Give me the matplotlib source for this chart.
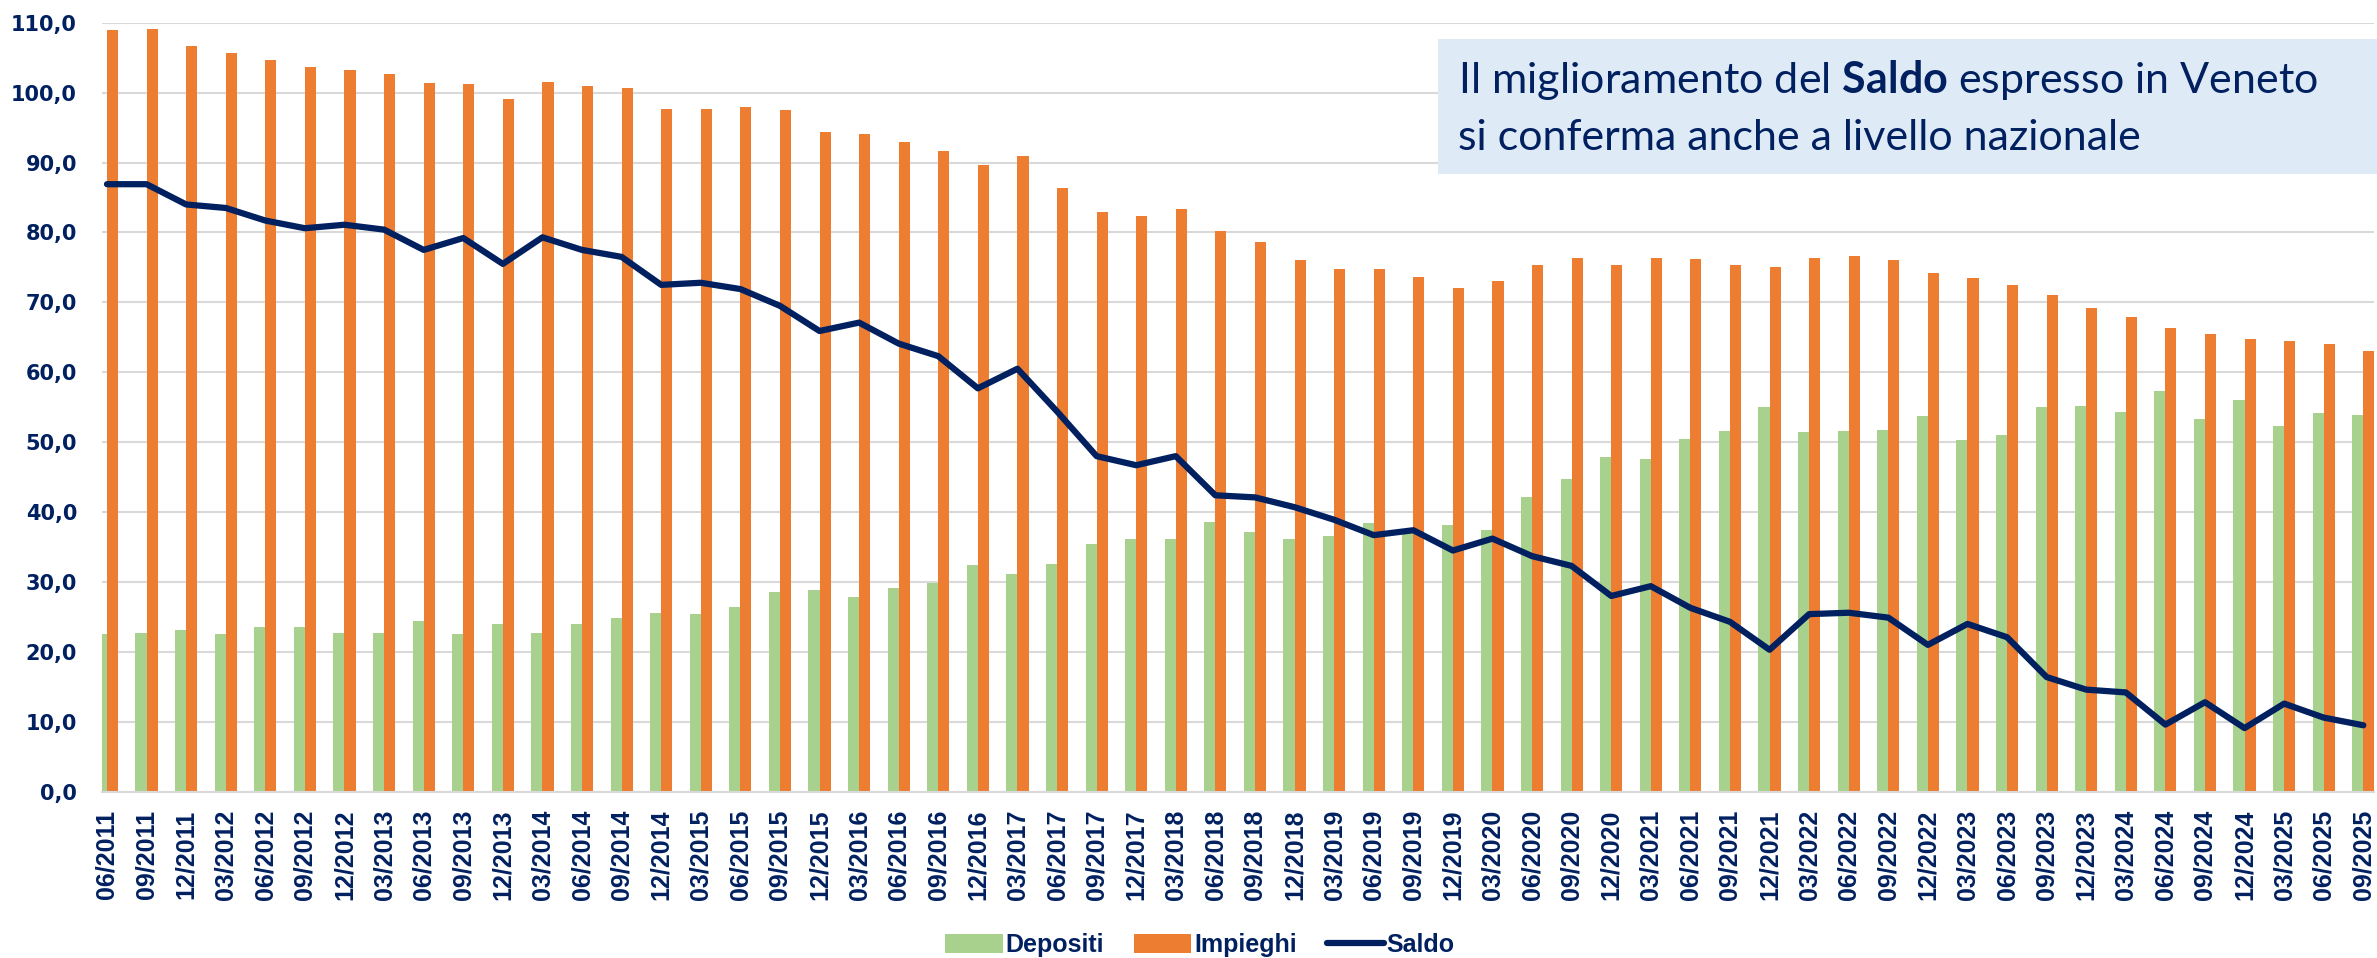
import numpy as np
import matplotlib
matplotlib.use('agg')
import matplotlib.pyplot as plt
from matplotlib.lines import Line2D
from matplotlib.patches import Patch, Rectangle
from matplotlib.ticker import FuncFormatter

# Trimestri
periodi = ['06/2011', '09/2011', '12/2011',
           '03/2012', '06/2012', '09/2012', '12/2012',
           '03/2013', '06/2013', '09/2013', '12/2013',
           '03/2014', '06/2014', '09/2014', '12/2014',
           '03/2015', '06/2015', '09/2015', '12/2015',
           '03/2016', '06/2016', '09/2016', '12/2016',
           '03/2017', '06/2017', '09/2017', '12/2017',
           '03/2018', '06/2018', '09/2018', '12/2018',
           '03/2019', '06/2019', '09/2019', '12/2019',
           '03/2020', '06/2020', '09/2020', '12/2020',
           '03/2021', '06/2021', '09/2021', '12/2021',
           '03/2022', '06/2022', '09/2022', '12/2022',
           '03/2023', '06/2023', '09/2023', '12/2023',
           '03/2024', '06/2024', '09/2024', '12/2024',
           '03/2025', '06/2025', '09/2025']

depositi = [22.6, 22.7, 23.2, 22.6, 23.6, 23.6, 22.7, 22.7, 24.4, 22.6, 24.0,
            22.7, 24.0, 24.8, 25.6, 25.4, 26.4, 28.6, 28.8, 27.8, 29.2, 29.8,
            32.4, 31.1, 32.5, 35.5, 36.2, 36.2, 38.6, 37.2, 36.1, 36.6, 38.5,
            37.0, 38.1, 37.4, 42.1, 44.8, 47.9, 47.6, 50.5, 51.6, 55.1, 51.4,
            51.6, 51.7, 53.7, 50.3, 51.0, 55.0, 55.2, 54.3, 57.3, 53.3, 56.1,
            52.3, 54.1, 53.9]

impieghi = [108.9, 109.1, 106.7, 105.6, 104.7, 103.7, 103.2, 102.6, 101.4, 101.2, 99.1,
            101.5, 100.9, 100.7, 97.6, 97.6, 98.0, 97.5, 94.3, 94.1, 92.9, 91.6,
            89.6, 91.0, 86.4, 82.9, 82.3, 83.4, 80.2, 78.7, 76.1, 74.8, 74.7,
            73.6, 72.1, 73.0, 75.4, 76.4, 75.4, 76.3, 76.2, 75.3, 75.0, 76.3,
            76.6, 76.1, 74.2, 73.5, 72.5, 71.0, 69.2, 67.9, 66.3, 65.4, 64.8,
            64.4, 64.1, 63.0]

saldo = [86.9, 86.9, 84.0, 83.5, 81.7, 80.6, 81.1, 80.4, 77.5, 79.2, 75.5,
         79.3, 77.5, 76.5, 72.5, 72.8, 71.9, 69.5, 65.9, 67.1, 64.1, 62.3,
         57.7, 60.5, 54.4, 48.0, 46.7, 48.0, 42.4, 42.1, 40.7, 38.9, 36.7,
         37.4, 34.5, 36.2, 33.7, 32.3, 28.0, 29.4, 26.3, 24.3, 20.3, 25.4,
         25.6, 24.9, 21.0, 24.0, 22.1, 16.4, 14.6, 14.2, 9.6, 12.8, 9.1,
         12.6, 10.6, 9.5]

VERDE = '#A9D18E'
ARANCIO = '#ED7D31'
BLU = '#002060'
GRIGIO = '#D9D9D9'

# Calibri non c'e', uso Lato per il riquadro
plt.rcParams['mathtext.fontset'] = 'custom'
plt.rcParams['mathtext.rm'] = 'Lato'
plt.rcParams['mathtext.bf'] = 'Lato:bold'

W, H = 2377, 958
fig = plt.figure(figsize=(W / 100, H / 100), dpi=100)
ax = fig.add_axes([102 / W, 1 - 791.7 / H, (2374 - 102) / W, (791.7 - 22.7) / H])

x = np.arange(len(periodi))
w = 0.28
ax.bar(x - w / 2, depositi, w, color=VERDE, zorder=2)
ax.bar(x + w / 2, impieghi, w, color=ARANCIO, zorder=2)
ax.plot(x, saldo, color=BLU, lw=4.5, zorder=3,
        solid_joinstyle='round', solid_capstyle='round')

ax.set_xlim(-0.126, 57.27)
ax.set_ylim(0, 110)
ax.set_yticks(np.arange(0, 111, 10))
ax.yaxis.set_major_formatter(FuncFormatter(lambda v, p: ('%.1f' % v).replace('.', ',')))
ax.set_xticks(x)
ax.set_xticklabels(periodi, rotation=90, family='Liberation Sans',
                   fontweight='bold', fontsize=18, color=BLU)
for lab in ax.get_yticklabels():
    lab.set_fontweight('bold')
    lab.set_fontsize(15)
    lab.set_color(BLU)

ax.grid(axis='y', color=GRIGIO, lw=1.5, zorder=0)
ax.set_axisbelow(True)
for s in ['top', 'right', 'left']:
    ax.spines[s].set_visible(False)
ax.spines['bottom'].set_color(GRIGIO)
ax.spines['bottom'].set_linewidth(1.5)
ax.spines['bottom'].set_zorder(4)
ax.tick_params(axis='both', length=0)
ax.tick_params(axis='y', pad=18)
ax.tick_params(axis='x', pad=13)

# Riquadro con il commento
fig.patches.append(Rectangle((1438 / W, 1 - 174.3 / H), (W - 1438) / W, (174.3 - 39.3) / H,
                             transform=fig.transFigure, facecolor='#DEEAF6',
                             edgecolor='none', zorder=5))
fig.text(1458 / W, 1 - 92.7 / H, r'Il miglioramento del $\mathbf{Saldo}$ espresso in Veneto',
         family='Lato', fontsize=31, color=BLU, va='baseline', ha='left', zorder=6)
fig.text(1458 / W, 1 - 150 / H, 'si conferma anche a livello nazionale',
         family='Lato', fontsize=31, color=BLU, va='baseline', ha='left', zorder=6)

# Legenda
handles = [Patch(facecolor=VERDE, label='Depositi'),
           Patch(facecolor=ARANCIO, label='Impieghi'),
           Line2D([0], [0], color=BLU, lw=4.5, solid_capstyle='round', label='Saldo')]
fig.legend(handles=handles, loc='center', bbox_to_anchor=(1200 / W, 1 - 945 / H),
           ncol=3, frameon=False, handlelength=2.3, handleheight=0.8,
           handletextpad=0.1, columnspacing=1.2, labelcolor=BLU,
           prop={'family': 'Liberation Sans', 'weight': 'bold', 'size': 18})

fig.savefig('out.png', dpi=100)
